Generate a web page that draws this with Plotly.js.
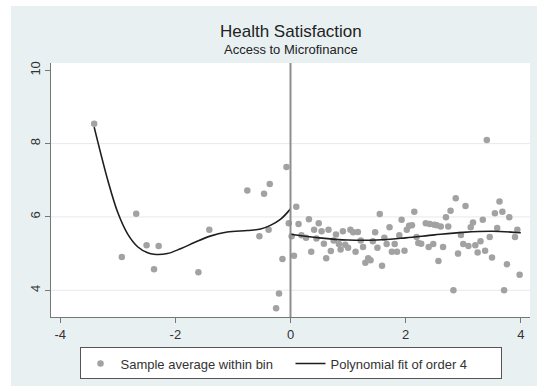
<!DOCTYPE html>
<html>
<head>
<meta charset="utf-8">
<script src="https://cdn.plot.ly/plotly-3.0.1.min.js"></script>
<style>
  html, body { margin: 0; padding: 0; background: #ffffff; width: 537px; height: 391px; overflow: hidden; }
  #frame { position: absolute; left: 11px; top: 6px; width: 526px; height: 380px; }
</style>
</head>
<body>
<div id="frame"></div>
<script>
// ---- data ----
const leftBinX = [-3.41, -2.93, -2.68, -2.50, -2.37, -2.29, -1.60, -1.41, -0.75, -0.54, -0.46, -0.38, -0.36, -0.25, -0.20, -0.14, -0.07, -0.03];
const leftBinY = [8.54, 4.91, 6.09, 5.23, 4.57, 5.21, 4.49, 5.65, 6.72, 5.47, 6.63, 5.65, 6.90, 3.51, 3.91, 4.85, 7.36, 5.83];

const rightBinX = [0.02, 0.06, 0.10, 0.14, 0.19, 0.27, 0.32, 0.36, 0.41, 0.45, 0.49, 0.54, 0.58, 0.62, 0.66, 0.70, 0.75, 0.79, 0.84, 0.87,
  0.91, 0.95, 1.00, 1.04, 1.09, 1.13, 1.17, 1.22, 1.26, 1.30, 1.35, 1.39, 1.43, 1.47, 1.51, 1.55, 1.59, 1.63, 1.67, 1.72,
  1.76, 1.81, 1.85, 1.89, 1.93, 1.98, 2.02, 2.06, 2.11, 2.15, 2.19, 2.22, 2.27, 2.35, 2.40, 2.42, 2.48, 2.50, 2.54, 2.57,
  2.61, 2.65, 2.70, 2.74, 2.78, 2.83, 2.87, 2.91, 2.96, 3.00, 3.04, 3.09, 3.13, 3.17, 3.21, 3.25, 3.30, 3.34, 3.38, 3.41,
  3.46, 3.50, 3.55, 3.59, 3.63, 3.68, 3.71, 3.76, 3.80, 3.90, 3.94, 3.98];
const rightBinY = [5.47, 4.94, 6.28, 5.81, 5.50, 5.43, 5.94, 5.05, 5.65, 5.41, 5.83, 5.61, 5.27, 4.87, 5.65, 5.07, 5.36, 5.52, 5.26, 5.11,
  5.61, 5.24, 5.16, 5.65, 5.58, 5.05, 5.59, 5.36, 5.18, 4.75, 4.87, 4.82, 5.34, 5.58, 5.16, 6.08, 4.67, 5.43, 5.26, 5.72,
  5.05, 5.26, 5.05, 5.50, 5.92, 5.08, 5.65, 5.76, 5.77, 6.14, 5.45, 5.29, 5.27, 5.83, 5.18, 5.81, 5.26, 5.79, 5.77, 4.80,
  5.74, 5.18, 5.99, 5.74, 6.17, 4.00, 6.51, 5.00, 5.51, 5.26, 6.30, 5.21, 5.72, 5.85, 5.23, 5.03, 5.34, 5.92, 5.08, 8.10,
  5.45, 4.89, 6.10, 5.70, 6.42, 6.14, 4.00, 4.71, 5.99, 5.45, 5.65, 4.42];

const leftFitX = [-3.41, -3.17, -3.00, -2.83, -2.65, -2.48, -2.37, -2.14, -1.90, -1.67, -1.41, -1.10, -0.75, -0.52, -0.35, -0.17, 0.00];
const leftFitY = [8.45, 6.98, 6.12, 5.54, 5.18, 5.02, 4.98, 5.00, 5.14, 5.30, 5.47, 5.59, 5.63, 5.67, 5.77, 5.94, 6.22];
const rightFitX = [0.00, 0.50, 1.00, 1.50, 2.00, 2.50, 3.00, 3.50, 4.00];
const rightFitY = [5.53, 5.43, 5.37, 5.37, 5.43, 5.51, 5.58, 5.61, 5.57];

const cutoff = 0;
const xTickVals = [-4, -2, 0, 2, 4];
const xTickLabels = ['-4', '-2', '0', '2', '4'];
const yTickVals = [4, 6, 8, 10];
const yTickLabels = ['4', '6', '8', '10'];
const gridVals = [4, 6, 8];

const titleText = 'Health Satisfaction';
const subtitleText = 'Access to Microfinance';
const scatterName = 'Sample average within bin';
const fitName = 'Polynomial fit of order 4';

// ---- styles ----
const FONT = '"Liberation Sans", Arial, sans-serif';
const dotColor = '#a2a2a2';
const lineColor = '#1e1e1e';

const traces = [
  { x: leftBinX.concat(rightBinX), y: leftBinY.concat(rightBinY), type: 'scatter', mode: 'markers',
    name: scatterName, marker: { color: dotColor, size: 6.5 }, hoverinfo: 'skip' },
  { x: leftFitX, y: leftFitY, type: 'scatter', mode: 'lines', name: fitName,
    line: { color: lineColor, width: 1.6, shape: 'spline', smoothing: 1 }, hoverinfo: 'skip' },
  { x: rightFitX, y: rightFitY, type: 'scatter', mode: 'lines', name: fitName, showlegend: false,
    line: { color: lineColor, width: 1.6, shape: 'spline', smoothing: 1 }, hoverinfo: 'skip' }
];

const shapes = gridVals.map(v => ({
  type: 'line', xref: 'paper', x0: 0, x1: 1, yref: 'y', y0: v, y1: v,
  line: { color: '#e4eaed', width: 1 }, layer: 'below'
}));
shapes.push({ type: 'line', xref: 'x', x0: cutoff, x1: cutoff, yref: 'paper', y0: 0, y1: 1,
  line: { color: '#8e8e8e', width: 2 }, layer: 'above' });

const layout = {
  width: 526, height: 380,
  margin: { l: 40, r: 7, t: 57, b: 65 },
  paper_bgcolor: '#e9f0f2',
  plot_bgcolor: '#ffffff',
  font: { family: FONT, size: 13, color: '#333333' },
  showlegend: true,
  legend: {
    orientation: 'h', x: 0.5, xanchor: 'center', y: -0.12, yanchor: 'top',
    bgcolor: '#ffffff', bordercolor: '#555555', borderwidth: 1,
    font: { family: FONT, size: 13, color: '#333333' },
    entrywidth: 165, entrywidthmode: 'pixels'
  },
  xaxis: {
    range: [-4.16, 4.16], tickvals: xTickVals, ticktext: xTickLabels,
    ticks: 'outside', ticklen: 5, tickcolor: '#777777', showline: true, linecolor: '#777777',
    linewidth: 1, showgrid: false, zeroline: false, fixedrange: true
  },
  yaxis: {
    range: [3.27, 10.2], tickvals: yTickVals, ticktext: yTickLabels, tickangle: -90,
    ticks: 'outside', ticklen: 5, tickcolor: '#777777', showline: true, linecolor: '#777777',
    linewidth: 1, showgrid: false, zeroline: false, fixedrange: true
  },
  shapes: shapes,
  annotations: [
    { text: titleText, xref: 'paper', yref: 'paper', x: 0.5, y: 1.125, xanchor: 'center', yanchor: 'middle',
      showarrow: false, font: { family: FONT, size: 17, color: '#222222' } },
    { text: subtitleText, xref: 'paper', yref: 'paper', x: 0.5, y: 1.052, xanchor: 'center', yanchor: 'middle',
      showarrow: false, font: { family: FONT, size: 13, color: '#222222' } }
  ]
};

Plotly.newPlot('frame', traces, layout, { displayModeBar: false, staticPlot: true });
</script>
</body>
</html>
